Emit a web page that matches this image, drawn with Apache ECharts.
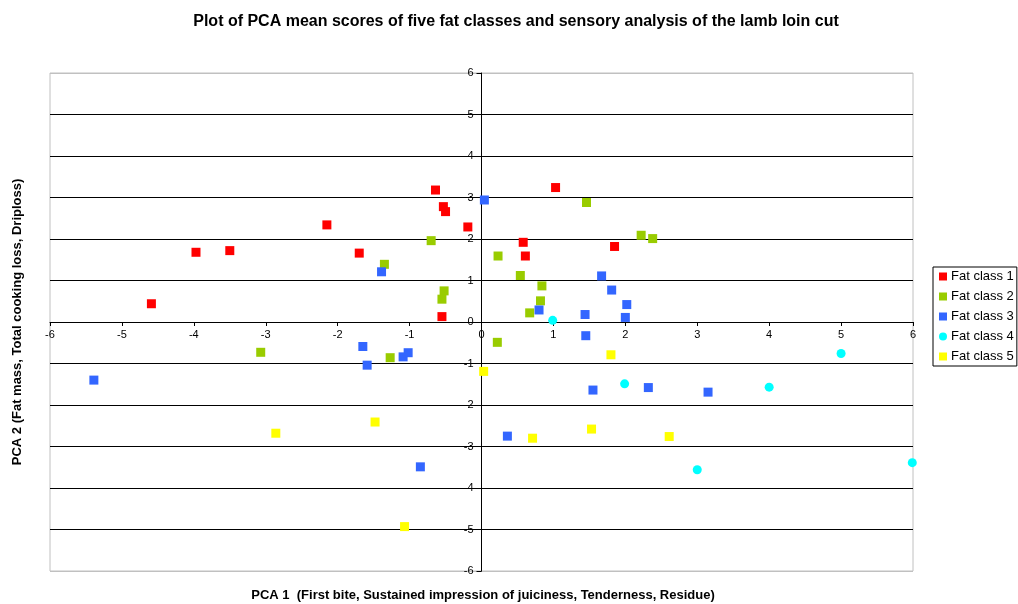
<!DOCTYPE html>
<html>
<head>
<meta charset="utf-8">
<script src="https://cdn.jsdelivr.net/npm/echarts@6/dist/echarts.min.js"></script>
<style>
  html, body { margin: 0; padding: 0; background: #fff; }
  #chart { width: 1018px; height: 604px; }
</style>
</head>
<body>
<div id="chart"></div>
<script>
// PCA 平均得分 [PCA1, PCA2]，按脂肪等级分组
const fatClass1 = [
  [-4.59, 0.44], [-3.97, 1.68], [-3.50, 1.72], [-2.15, 2.34], [-1.70, 1.66],
  [-0.64, 3.18], [-0.53, 2.78], [-0.50, 2.66], [-0.19, 2.29], [-0.55, 0.13],
  [0.58, 1.92], [0.61, 1.59], [1.03, 3.24], [1.85, 1.82]
]
const fatClass2 = [
  [-3.07, -0.73], [-1.35, 1.39], [-1.27, -0.86], [-0.70, 1.96], [-0.52, 0.75],
  [-0.55, 0.55], [0.22, -0.49], [0.23, 1.59], [0.54, 1.12], [0.67, 0.22],
  [0.82, 0.51], [0.84, 0.87], [1.46, 2.88], [2.22, 2.09], [2.38, 2.01]
]
const fatClass3 = [
  [-5.39, -1.40], [-1.65, -0.59], [-1.59, -1.04], [-1.39, 1.21], [-1.09, -0.84],
  [-1.02, -0.74], [-0.85, -3.49], [0.04, 2.94], [0.36, -2.75], [0.80, 0.29],
  [1.44, 0.18], [1.45, -0.33], [1.55, -1.64], [1.67, 1.11], [1.81, 0.77],
  [2.00, 0.11], [2.02, 0.42], [2.32, -1.58], [3.15, -1.69]
]
const fatClass4 = [
  [0.99, 0.04], [1.99, -1.49], [3.00, -3.56], [4.00, -1.57], [5.00, -0.76], [5.99, -3.39]
]
const fatClass5 = [
  [-2.86, -2.68], [-1.48, -2.41], [-1.07, -4.93], [0.03, -1.19], [0.71, -2.80],
  [1.53, -2.58], [1.80, -0.79], [2.61, -2.76]
]

const classNames = ['Fat class 1', 'Fat class 2', 'Fat class 3', 'Fat class 4', 'Fat class 5']
const classData = [fatClass1, fatClass2, fatClass3, fatClass4, fatClass5]
const classColors = ['#FF0000', '#99CC00', '#3366FF', '#00FFFF', '#FFFF00']
const classSymbols = ['rect', 'rect', 'rect', 'circle', 'rect']

const axisMin = -6
const axisMax = 6

const titleText = 'Plot of PCA mean scores of five fat classes and sensory analysis of the lamb loin cut'
const xName = 'PCA 1  (First bite, Sustained impression of juiciness, Tenderness, Residue)'
const yName = 'PCA 2 (Fat mass, Total cooking loss, Driploss)'

const font = 'Liberation Sans, Arial, sans-serif'

// 绘图区位置
const gridLeft = 50
const gridRight = 105
const gridTop = 73
const gridBottom = 33
const plotW = 1018 - gridLeft - gridRight
const plotH = 604 - gridTop - gridBottom

const chartDom = document.getElementById('chart')
const myChart = echarts.init(chartDom)

// 横向网格线：上下两端为灰色边框色，中间为黑色
const splitColors = []
for (let v = axisMin; v <= axisMax; v++) {
  splitColors.push(v === axisMin || v === axisMax ? '#c0c0c0' : '#000000')
}

const option = {
  animation: false,
  backgroundColor: '#ffffff',
  grid: {
    left: gridLeft,
    right: gridRight,
    top: gridTop,
    bottom: gridBottom,
    show: true,
    borderColor: '#c0c0c0',
    borderWidth: 1
  },
  legend: {
    orient: 'vertical',
    left: 933,
    top: 267,
    padding: [3, 3, 3, 6],
    itemGap: 7,
    itemWidth: 8,
    itemHeight: 8,
    borderColor: '#000',
    borderWidth: 1,
    textStyle: { fontFamily: font, fontSize: 13, color: '#000', lineHeight: 13, padding: [0, 0, 0, -1] },
    data: classNames
  },
  xAxis: {
    type: 'value',
    min: axisMin,
    max: axisMax,
    interval: 1,
    position: 'bottom',
    // 轴线、刻度和标签整体移到 y=0 处
    offset: -plotH / 2,
    axisLine: { onZero: false, lineStyle: { color: '#000', width: 1 } },
    axisTick: { show: true, length: 4, lineStyle: { color: '#000' } },
    axisLabel: { fontFamily: font, fontSize: 11, color: '#000', margin: 7 },
    splitLine: { show: false }
  },
  yAxis: {
    type: 'value',
    min: axisMin,
    max: axisMax,
    interval: 1,
    position: 'left',
    // 轴线、刻度和标签整体移到 x=0 处
    offset: -plotW / 2,
    axisLine: { onZero: false, lineStyle: { color: '#000', width: 1 } },
    axisTick: { show: true, length: 5, lineStyle: { color: '#000' } },
    axisLabel: { fontFamily: font, fontSize: 11, color: '#000', margin: 8 },
    splitLine: { show: true, lineStyle: { color: splitColors, width: 1 } }
  },
  graphic: [
    {
      type: 'text',
      x: 516,
      y: 22,
      style: {
        text: titleText,
        font: 'bold 16px ' + font,
        fill: '#000',
        textAlign: 'center',
        textVerticalAlign: 'middle'
      }
    },
    {
      type: 'text',
      x: 483,
      y: 595,
      style: {
        text: xName,
        font: 'bold 13px ' + font,
        fill: '#000',
        textAlign: 'center',
        textVerticalAlign: 'middle'
      }
    },
    {
      type: 'text',
      x: 17,
      y: 322,
      rotation: Math.PI / 2,
      style: {
        text: yName,
        font: 'bold 13px ' + font,
        fill: '#000',
        textAlign: 'center',
        textVerticalAlign: 'middle'
      }
    }
  ],
  series: classNames.map((name, i) => ({
    name: name,
    type: 'scatter',
    data: classData[i],
    symbol: classSymbols[i],
    symbolSize: 9,
    itemStyle: { color: classColors[i], opacity: 1 },
    z: 3
  }))
}

myChart.setOption(option)
</script>
</body>
</html>
